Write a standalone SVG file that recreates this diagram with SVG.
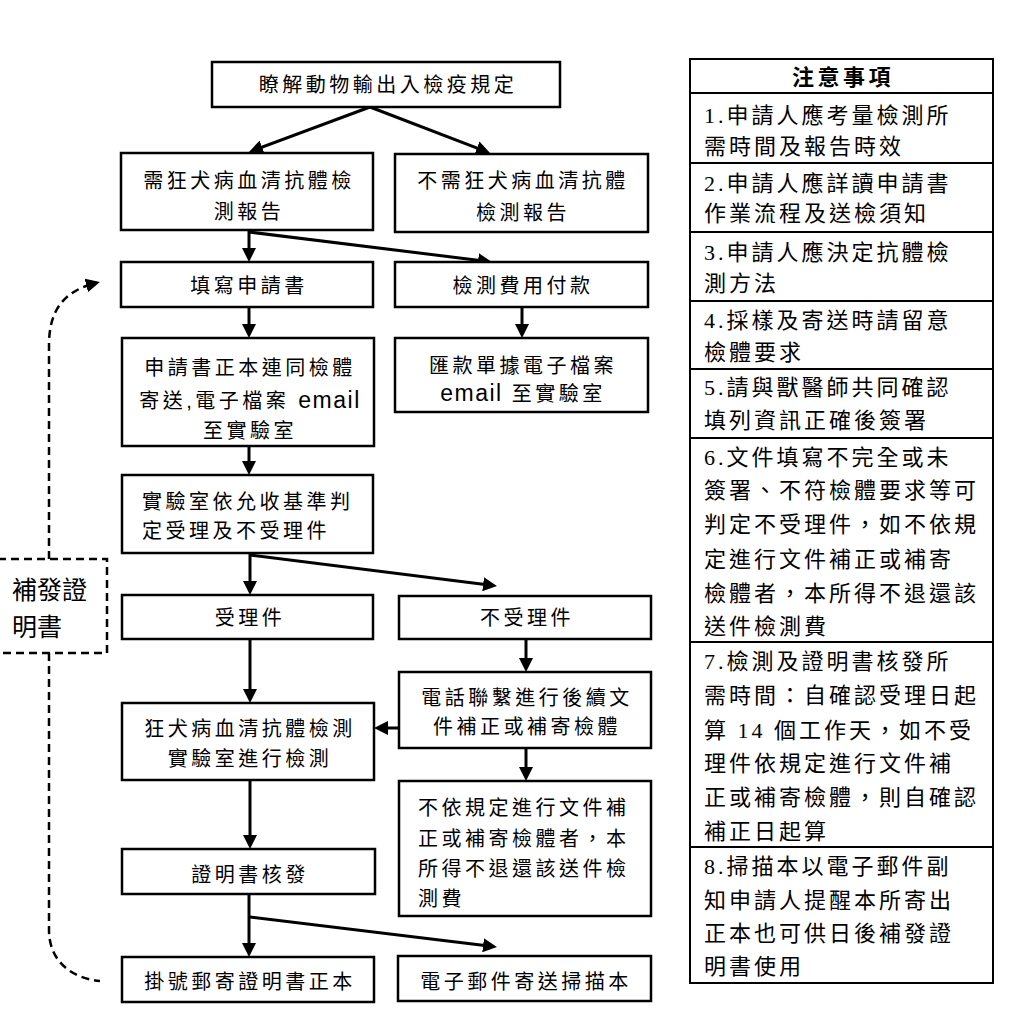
<svg xmlns="http://www.w3.org/2000/svg" width="1012" height="1024" viewBox="0 0 1012 1024">
<style>
.box{fill:#fff;stroke:#000;stroke-width:2.5}
.dbox{fill:#fff;stroke:#000;stroke-width:2.5;stroke-dasharray:8 5}
.t{font-family:"Liberation Sans","Noto Sans CJK TC",sans-serif;font-size:20px;letter-spacing:3.5px;fill:#000;text-anchor:middle}
.tl{text-anchor:start}
.em{font-size:23px;letter-spacing:1.5px}
.n{font-family:"Liberation Serif","Noto Sans CJK TC",sans-serif;font-size:22px;letter-spacing:3px;fill:#000}
.h{font-family:"Noto Sans CJK TC",sans-serif;font-size:22px;font-weight:bold;letter-spacing:3.5px;text-anchor:middle}
.c{stroke:#000;stroke-width:3;fill:none;marker-end:url(#ah)}
.d{stroke:#000;stroke-width:2.5;fill:none;stroke-dasharray:8 5}
.tb{fill:#fff;stroke:#000;stroke-width:2}
.rl{stroke:#000;stroke-width:2}
.r{font-family:"Noto Sans CJK TC",sans-serif;font-size:25px;fill:#000}
</style>
<defs>
<marker id="ah" markerUnits="userSpaceOnUse" markerWidth="14" markerHeight="14" viewBox="0 0 14 14" refX="10" refY="7" orient="auto">
<path d="M0,0 L14,7 L0,14 z" fill="#000"/>
</marker>
</defs>
<rect width="1012" height="1024" fill="#fff"/>

<g id="connectors">
<line class="c" x1="370" y1="107" x2="252.7" y2="150.6"/>
<line class="c" x1="370" y1="107" x2="486.3" y2="151.6"/>
<line class="c" x1="249" y1="230" x2="249" y2="258"/>
<line class="c" x1="249" y1="232" x2="488" y2="261.5"/>
<line class="c" x1="249" y1="307" x2="249" y2="334"/>
<line class="c" x1="522" y1="307" x2="522" y2="334"/>
<line class="c" x1="249" y1="446" x2="249" y2="471"/>
<line class="c" x1="250" y1="553" x2="250" y2="591"/>
<line class="c" x1="250" y1="555" x2="493" y2="585.5"/>
<line class="c" x1="250" y1="639" x2="250" y2="699"/>
<line class="c" x1="526" y1="639" x2="526" y2="668"/>
<line class="c" x1="399" y1="728" x2="378" y2="728"/>
<line class="c" x1="526" y1="748" x2="526" y2="777"/>
<line class="c" x1="250" y1="780" x2="250" y2="845"/>
<line class="c" x1="249" y1="894" x2="249" y2="953"/>
<line class="c" x1="250" y1="917" x2="493" y2="946.5"/>
<path class="d" d="M49,559 L49,345 C49,310 64,291 96,283" marker-end="url(#ah)"/>
<path class="d" d="M49,653 L49,930 C49,960 70,978 100,981"/>
</g>

<g id="n-top"><rect class="box" x="212" y="62" width="348" height="45"/>
<text class="t" x="388" y="92">瞭解動物輸出入檢疫規定</text></g>

<g id="n-need"><rect class="box" x="121" y="153" width="252" height="77"/>
<text class="t" x="249" y="188">需狂犬病血清抗體檢</text>
<text class="t" x="249" y="219">測報告</text></g>

<g id="n-noneed"><rect class="box" x="395" y="154" width="253" height="78"/>
<text class="t" x="523" y="188">不需狂犬病血清抗體</text>
<text class="t" x="523" y="220">檢測報告</text></g>

<g id="n-fill"><rect class="box" x="121" y="262" width="252" height="45"/>
<text class="t" x="249" y="293">填寫申請書</text></g>

<g id="n-pay"><rect class="box" x="395" y="262" width="253" height="45"/>
<text class="t" x="523" y="293">檢測費用付款</text></g>

<g id="n-send"><rect class="box" x="122" y="338" width="252" height="108"/>
<text class="t" x="250" y="375">申請書正本連同檢體</text>
<text class="t" x="250" y="408">寄送,電子檔案 <tspan class="em">email</tspan></text>
<text class="t" x="250" y="438">至實驗室</text></g>

<g id="n-remit"><rect class="box" x="395" y="338" width="253" height="74"/>
<text class="t" x="523" y="373">匯款單據電子檔案</text>
<text class="t" x="523" y="401"><tspan class="em">email</tspan> 至實驗室</text></g>

<g id="n-judge"><rect class="box" x="122" y="475" width="251" height="78"/>
<text class="t tl" x="142" y="509">實驗室依允收基準判</text>
<text class="t tl" x="142" y="538">定受理及不受理件</text></g>

<g id="n-accept"><rect class="box" x="122" y="595" width="251" height="44"/>
<text class="t" x="250" y="625">受理件</text></g>

<g id="n-reject"><rect class="box" x="399" y="596" width="252" height="43"/>
<text class="t" x="527" y="625">不受理件</text></g>

<g id="n-phone"><rect class="box" x="399" y="672" width="252" height="76"/>
<text class="t" x="527" y="705">電話聯繫進行後續文</text>
<text class="t" x="527" y="734">件補正或補寄檢體</text></g>

<g id="n-test"><rect class="box" x="122" y="703" width="252" height="77"/>
<text class="t" x="250" y="736">狂犬病血清抗體檢測</text>
<text class="t" x="250" y="766">實驗室進行檢測</text></g>

<g id="n-norefund"><rect class="box" x="399" y="781" width="252" height="135"/>
<text class="t tl" x="418" y="815">不依規定進行文件補</text>
<text class="t tl" x="418" y="846">正或補寄檢體者，本</text>
<text class="t tl" x="418" y="876">所得不退還該送件檢</text>
<text class="t tl" x="418" y="906">測費</text></g>

<g id="n-issue"><rect class="box" x="122" y="849" width="253" height="45"/>
<text class="t" x="250" y="882">證明書核發</text></g>

<g id="n-mail"><rect class="box" x="122" y="957" width="252" height="45"/>
<text class="t" x="250" y="989">掛號郵寄證明書正本</text></g>

<g id="n-email"><rect class="box" x="398" y="956" width="253" height="45"/>
<text class="t" x="526" y="989">電子郵件寄送掃描本</text></g>

<g id="n-reissue"><rect class="dbox" x="-2" y="559" width="109" height="94"/>
<text class="r" x="12" y="599">補發證</text>
<text class="r" x="12" y="636">明書</text></g>

<g id="notes">
<rect class="tb" x="690" y="59" width="303" height="924"/>
<line class="rl" x1="690" y1="93" x2="993" y2="93"/>
<line class="rl" x1="690" y1="163" x2="993" y2="163"/>
<line class="rl" x1="690" y1="232" x2="993" y2="232"/>
<line class="rl" x1="690" y1="301" x2="993" y2="301"/>
<line class="rl" x1="690" y1="369" x2="993" y2="369"/>
<line class="rl" x1="690" y1="438" x2="993" y2="438"/>
<line class="rl" x1="690" y1="642" x2="993" y2="642"/>
<line class="rl" x1="690" y1="847" x2="993" y2="847"/>
<text class="h" x="843" y="85">注意事項</text>
<text class="n" x="704" y="123">1.申請人應考量檢測所</text>
<text class="n" x="704" y="154">需時間及報告時效</text>
<text class="n" x="704" y="191">2.申請人應詳讀申請書</text>
<text class="n" x="704" y="221">作業流程及送檢須知</text>
<text class="n" x="704" y="260">3.申請人應決定抗體檢</text>
<text class="n" x="704" y="291">測方法</text>
<text class="n" x="704" y="328">4.採樣及寄送時請留意</text>
<text class="n" x="704" y="360">檢體要求</text>
<text class="n" x="704" y="395">5.請與獸醫師共同確認</text>
<text class="n" x="704" y="428">填列資訊正確後簽署</text>
<text class="n" x="704" y="465">6.文件填寫不完全或未</text>
<text class="n" x="704" y="498">簽署、不符檢體要求等可</text>
<text class="n" x="704" y="532">判定不受理件，如不依規</text>
<text class="n" x="704" y="567">定進行文件補正或補寄</text>
<text class="n" x="704" y="601">檢體者，本所得不退還該</text>
<text class="n" x="704" y="634">送件檢測費</text>
<text class="n" x="704" y="669">7.檢測及證明書核發所</text>
<text class="n" x="704" y="703">需時間：自確認受理日起</text>
<text class="n" x="704" y="738">算 14 個工作天，如不受</text>
<text class="n" x="704" y="771">理件依規定進行文件補</text>
<text class="n" x="704" y="805">正或補寄檢體，則自確認</text>
<text class="n" x="704" y="839">補正日起算</text>
<text class="n" x="704" y="874">8.掃描本以電子郵件副</text>
<text class="n" x="704" y="908">知申請人提醒本所寄出</text>
<text class="n" x="704" y="941">正本也可供日後補發證</text>
<text class="n" x="704" y="974">明書使用</text>
</g>
</svg>
